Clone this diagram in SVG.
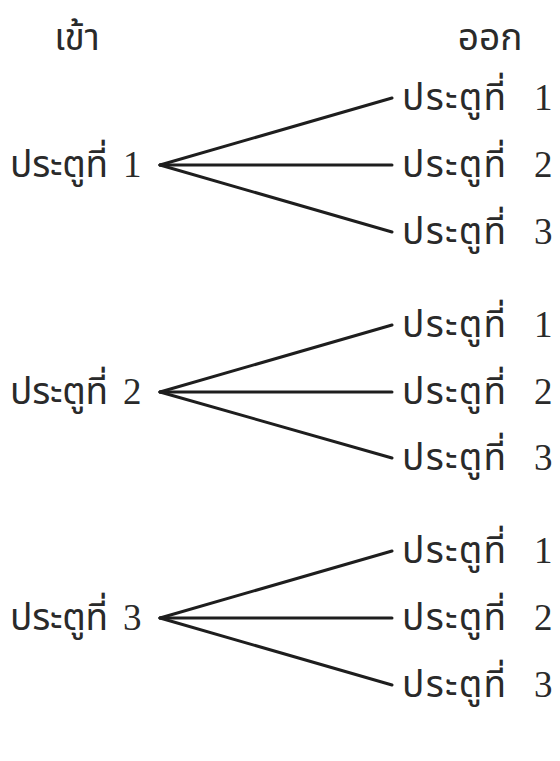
<svg xmlns="http://www.w3.org/2000/svg" width="560" height="761" viewBox="0 0 560 761">
<style>
text{font-family:"Liberation Serif","Noto Sans Thai","Noto Serif Thai","DejaVu Sans",serif;font-size:37px;fill:#2a2a2a}
.c line{stroke:#1e1e1e;stroke-width:3;stroke-linecap:round}
</style>
<rect width="560" height="761" fill="#fff"/>
<g id="head-in"><text x="77" y="50" text-anchor="middle">เข้า</text></g>
<g id="head-out"><text x="490" y="50" text-anchor="middle">ออก</text></g>
<g class="c" id="connectors">
<line x1="160" y1="165" x2="392" y2="98"/>
<line x1="160" y1="165" x2="392" y2="165"/>
<line x1="160" y1="165" x2="392" y2="232"/>
<line x1="160" y1="392" x2="392" y2="325"/>
<line x1="160" y1="392" x2="392" y2="392"/>
<line x1="160" y1="392" x2="392" y2="458"/>
<line x1="160" y1="618" x2="392" y2="551"/>
<line x1="160" y1="618" x2="392" y2="618"/>
<line x1="160" y1="618" x2="392" y2="685"/>
</g>
<g id="in1"><text x="10" y="177" textLength="98" lengthAdjust="spacing">ประตูที่</text><text x="123" y="177">1</text></g>
<g id="in2"><text x="10" y="404" textLength="98" lengthAdjust="spacing">ประตูที่</text><text x="123" y="404">2</text></g>
<g id="in3"><text x="10" y="630" textLength="98" lengthAdjust="spacing">ประตูที่</text><text x="123" y="630">3</text></g>
<g id="out1-1"><text x="402" y="110" textLength="104" lengthAdjust="spacing">ประตูที่</text><text x="534" y="110">1</text></g>
<g id="out1-2"><text x="402" y="177" textLength="104" lengthAdjust="spacing">ประตูที่</text><text x="534" y="177">2</text></g>
<g id="out1-3"><text x="402" y="244" textLength="104" lengthAdjust="spacing">ประตูที่</text><text x="534" y="244">3</text></g>
<g id="out2-1"><text x="402" y="337" textLength="104" lengthAdjust="spacing">ประตูที่</text><text x="534" y="337">1</text></g>
<g id="out2-2"><text x="402" y="404" textLength="104" lengthAdjust="spacing">ประตูที่</text><text x="534" y="404">2</text></g>
<g id="out2-3"><text x="402" y="470" textLength="104" lengthAdjust="spacing">ประตูที่</text><text x="534" y="470">3</text></g>
<g id="out3-1"><text x="402" y="563" textLength="104" lengthAdjust="spacing">ประตูที่</text><text x="534" y="563">1</text></g>
<g id="out3-2"><text x="402" y="630" textLength="104" lengthAdjust="spacing">ประตูที่</text><text x="534" y="630">2</text></g>
<g id="out3-3"><text x="402" y="697" textLength="104" lengthAdjust="spacing">ประตูที่</text><text x="534" y="697">3</text></g>
</svg>
